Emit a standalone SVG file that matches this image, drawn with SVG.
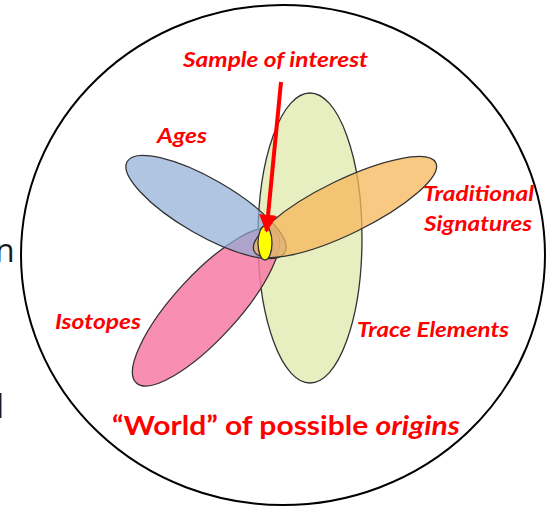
<svg xmlns="http://www.w3.org/2000/svg" width="556" height="510" viewBox="0 0 556 510">
<defs>
<style>
.lbl{font-family:Lato,"Open Sans","Liberation Sans",sans-serif;font-weight:bold;font-style:italic;fill:#ff0000;}
.set{stroke:#333;stroke-width:1.3;}
.frag{font-family:"Open Sans","Liberation Sans",sans-serif;fill:#1a1a1a;}
</style>
<marker id="ah" viewBox="0 0 10 10" refX="9" refY="5" markerWidth="4.5" markerHeight="4.5" orient="auto" markerUnits="strokeWidth">
<path d="M0,0 L10,5 L0,10 z" fill="#ff0000"/>
</marker>
</defs>
<rect width="556" height="510" fill="#ffffff"/>
<text class="frag" x="-5" y="262" font-size="32">n</text>
<text class="frag" x="-4" y="418" font-size="32">l</text>
<g id="world"><ellipse cx="283" cy="255" rx="262" ry="250" fill="none" stroke="#000" stroke-width="2"/></g>
<g id="trace"><ellipse class="set" cx="310" cy="238" rx="52" ry="145" fill="#e3ecb6" fill-opacity="0.85"/></g>
<g id="isotopes"><ellipse class="set" cx="206" cy="307" rx="103" ry="32" transform="rotate(-47.5 206 307)" fill="#f77aa3" fill-opacity="0.85"/></g>
<g id="ages"><ellipse class="set" cx="206" cy="207" rx="91" ry="28" transform="rotate(30 206 207)" fill="#8fadd6" fill-opacity="0.7"/></g>
<g id="traditional"><ellipse class="set" cx="345" cy="207" rx="101" ry="27" transform="rotate(-26 345 207)" fill="#f7b55a" fill-opacity="0.75"/></g>
<g id="sample"><ellipse class="set" cx="265" cy="243" rx="7" ry="17" fill="#ffff00"/></g>
<g id="connectors"><line x1="281" y1="82" x2="266.5" y2="231" stroke="#ff0000" stroke-width="4" marker-end="url(#ah)"/></g>
<g id="labels">
<text class="lbl" x="183" y="67" font-size="20" textLength="185" lengthAdjust="spacingAndGlyphs">Sample of interest</text>
<text class="lbl" x="157" y="143" font-size="20" textLength="50" lengthAdjust="spacingAndGlyphs">Ages</text>
<text class="lbl" x="423" y="201" font-size="20" textLength="111" lengthAdjust="spacingAndGlyphs">Traditional</text>
<text class="lbl" x="424" y="231" font-size="20" textLength="108" lengthAdjust="spacingAndGlyphs">Signatures</text>
<text class="lbl" x="55" y="329" font-size="20" textLength="86" lengthAdjust="spacingAndGlyphs">Isotopes</text>
<text class="lbl" x="357" y="337" font-size="20" textLength="152" lengthAdjust="spacingAndGlyphs">Trace Elements</text>
<text x="112" y="435" font-size="27" font-family="Lato,'Open Sans','Liberation Sans',sans-serif" font-weight="bold" fill="#ff0000" textLength="348" lengthAdjust="spacingAndGlyphs">“World” of possible <tspan font-style="italic">origins</tspan></text>
</g>
</svg>
